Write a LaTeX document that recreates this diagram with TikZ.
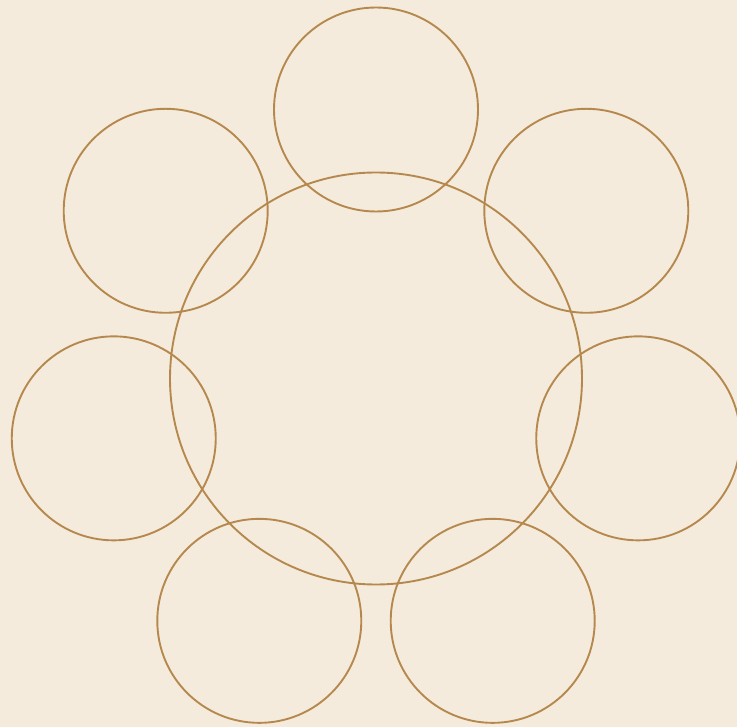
\documentclass[tikz,border=0pt]{standalone}
\usepackage{tikz}
\definecolor{paper}{HTML}{F5EBDC}
\definecolor{ring}{HTML}{B5894E}
\begin{document}
\begin{tikzpicture}[x=1pt, y=-1pt]
\fill[paper] (0,0) rectangle (737,727);
\useasboundingbox (0,0) rectangle (737,727);
\clip (0,0) rectangle (737,727);
\draw[ring, line width=1.9pt] (376,378.5) circle[radius=206];
\foreach \k in {0,...,6}
  \draw[ring, line width=1.9pt] ({376+269*cos(90-\k*360/7)},{378.5-269*sin(90-\k*360/7)}) circle[radius=102];
\end{tikzpicture}
\end{document}
